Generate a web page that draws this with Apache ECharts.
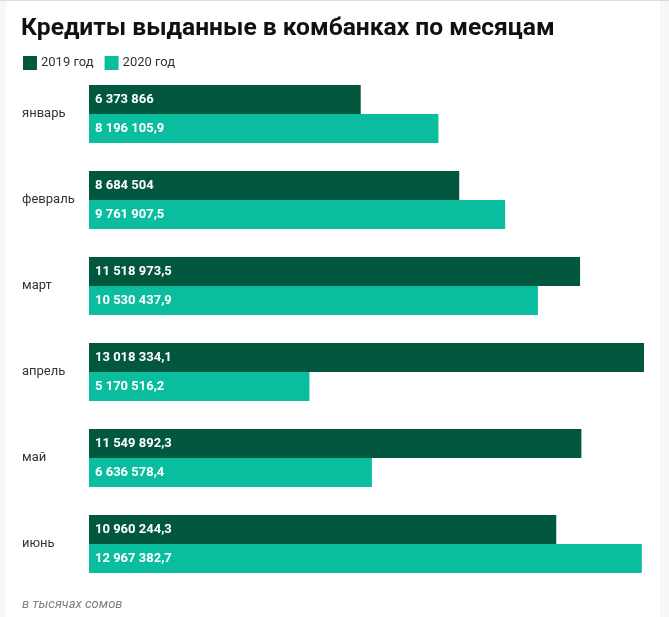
<!DOCTYPE html>
<html>
<head>
    <meta charset="utf-8">
    <title>ECharts</title>
    <script src="https://cdn.jsdelivr.net/npm/echarts@6/dist/echarts.min.js"></script>
    <style>
        html, body { margin: 0; padding: 0; background: #fff; }
    </style>
</head>
<body>
    <div id="main" style="width: 669px;height:617px;"></div>
    <script type="text/javascript">
        var months = ['январь', 'февраль', 'март', 'апрель', 'май', 'июнь'];
        var seriesNames = ['2019 год', '2020 год'];
        var values2019 = [6373866, 8684504, 11518973.5, 13018334.1, 11549892.3, 10960244.3];
        var values2020 = [8196105.9, 9761907.5, 10530437.9, 5170516.2, 6636578.4, 12967382.7];

        var colors = ['#02573f', '#0bbd9f'];
        var font = 'Roboto, "Noto Sans", sans-serif';

        // 8 196 105,9
        function fmt(v) {
            var parts = String(v).split('.');
            var intPart = parts[0].replace(/\B(?=(\d{3})+(?!\d))/g, ' ');
            return parts.length > 1 ? intPart + ',' + parts[1] : intPart;
        }

        var chartDom = document.getElementById('main');
        var myChart = echarts.init(chartDom);
        var option;

        function barSeries(name, data, color) {
            return {
                type: 'bar',
                name: name,
                data: data,
                barWidth: 29,
                barGap: '0%',
                itemStyle: { color: color },
                label: {
                    show: true,
                    position: 'insideLeft',
                    distance: 6,
                    color: '#fff',
                    fontWeight: 'bold',
                    fontSize: 13,
                    fontFamily: font,
                    formatter: function (p) { return fmt(p.value); }
                }
            };
        }

        option = {
            animation: false,
            textStyle: { fontFamily: font },
            title: {
                text: 'Кредиты выданные в комбанках по месяцам',
                left: 21,
                top: 16,
                padding: 0,
                textStyle: { fontSize: 24.6, fontWeight: 'bold', color: '#111', fontFamily: font }
            },
            legend: {
                data: seriesNames,
                left: 23,
                top: 56,
                padding: 0,
                itemWidth: 14,
                itemHeight: 14,
                itemGap: 11,
                icon: 'rect',
                textStyle: { fontSize: 13, color: '#333', padding: [0, 0, 0, -1] }
            },
            graphic: [
                { type: 'rect', shape: { x: 0, y: 0, width: 669, height: 1 }, style: { fill: '#dcdcdc' }, silent: true },
                { type: 'rect', shape: { x: 0, y: 1, width: 6, height: 616 }, style: { fill: '#f7f7f7' }, silent: true },
                { type: 'rect', shape: { x: 660, y: 1, width: 9, height: 616 }, style: { fill: '#f7f7f7' }, silent: true },
                {
                    type: 'text', left: 22, top: 598,
                    style: { text: 'в тысячах сомов', fontSize: 13, fontStyle: 'italic', fill: '#808080', fontFamily: font }
                }
            ],
            grid: {
                left: 89,
                right: 25,
                top: 71,
                bottom: 30,
                containLabel: false
            },
            xAxis: {
                type: 'value',
                min: 0,
                max: 'dataMax',
                show: false
            },
            yAxis: {
                type: 'category',
                data: months,
                inverse: true,
                axisLine: { show: false },
                axisTick: { show: false },
                axisLabel: {
                    align: 'left',
                    margin: 67,
                    fontSize: 13,
                    color: '#333'
                }
            },
            series: [
                barSeries(seriesNames[0], values2019, colors[0]),
                barSeries(seriesNames[1], values2020, colors[1])
            ]
        };

        option && myChart.setOption(option);
    </script>
</body>
</html>
